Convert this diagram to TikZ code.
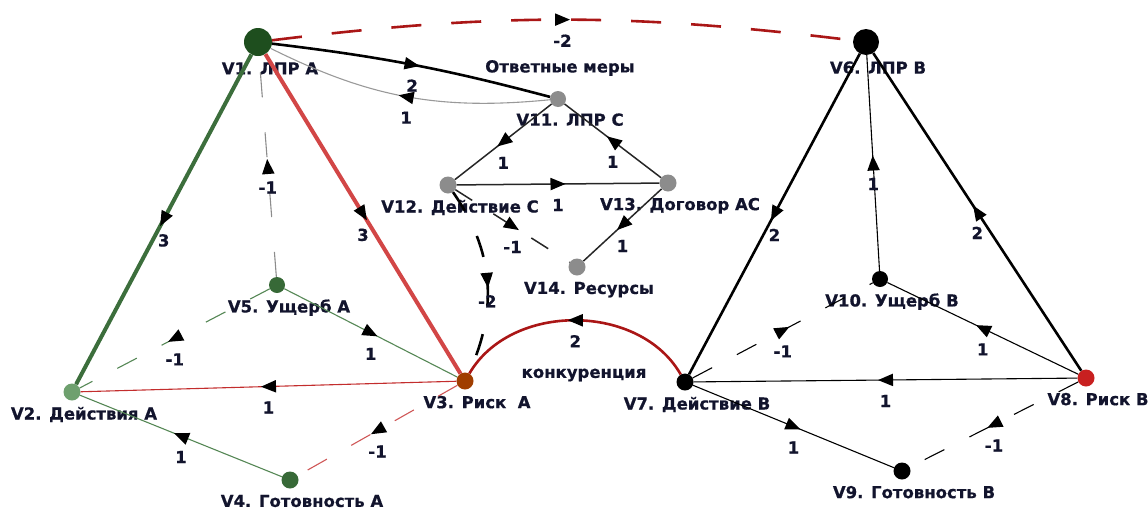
\documentclass[tikz,border=0pt]{standalone}
\usepackage{fontspec}
\setmainfont{DejaVu Sans}
\newfontfamily\lblfont{DejaVu Sans Bold}[FakeBold=0.6]
\usetikzlibrary{decorations.markings}

\definecolor{ink}{RGB}{18,20,45}
\definecolor{lprA}{RGB}{30,78,30}
\definecolor{grnA}{RGB}{55,105,55}
\definecolor{actA}{RGB}{110,160,110}
\definecolor{riskA}{RGB}{160,62,0}
\definecolor{riskB}{RGB}{200,32,32}
\definecolor{nodeC}{RGB}{140,140,140}
\definecolor{lineG}{RGB}{60,110,60}
\definecolor{lineR}{RGB}{210,70,70}
\definecolor{darkR}{RGB}{170,22,22}
\definecolor{thinG}{RGB}{85,135,85}
\definecolor{thinR}{RGB}{195,45,45}

\tikzset{
  vx/.style={circle, inner sep=0pt, minimum size=17pt, fill=#1},
  txt/.style={font=\lblfont\fontsize{16.5}{18}\selectfont, text=ink, inner sep=0pt},
  vlbl/.style={txt, xshift=12pt, label distance=6pt},
  wt/.style={txt, pos=.5, yshift=-21pt},
  midarr/.style={postaction={decorate}, decoration={markings,
      mark=at position #1 with {\fill[black] (7.5pt,0) -- (-7.5pt,6.3pt) -- (-7.5pt,-6.3pt) -- cycle;}}},
  midarr/.default=.5,
  thinline/.style={line width=1.1pt},
  cline/.style={line width=1.5pt, black!85},
  bold/.style={line width=2.6pt},
  heavy/.style={line width=4pt},
  longdash/.style={dash pattern=on 30pt off 30pt},
  shortdash/.style={dash pattern=on 22pt off 28pt}
}

\begin{document}
\begin{tikzpicture}[x=1pt,y=1pt]
\useasboundingbox (0,0) rectangle (1148,-509);

% side A
\node[vx=lprA, minimum size=28pt, label={[vlbl]below:V1. ЛПР А}] (v1) at (258,-42) {};
\node[vx=actA, label={[vlbl]below:V2. Действия А}] (v2) at (72,-392) {};
\node[vx=riskA, label={[vlbl]below:V3. Риск~~А}] (v3) at (465,-381) {};
\node[vx=grnA, label={[vlbl]below:V4. Готовность А}] (v4) at (290,-480) {};
\node[vx=grnA, minimum size=16pt, label={[vlbl]below:V5. Ущерб А}] (v5) at (277,-285) {};

% side B
\node[vx=black, minimum size=26pt, label={[vlbl]below:V6. ЛПР В}] (v6) at (866,-42) {};
\node[vx=black, label={[vlbl]below:V7. Действие В}] (v7) at (685,-382) {};
\node[vx=riskB, label={[vlbl]below:V8. Риск В}] (v8) at (1086,-378) {};
\node[vx=black, label={[vlbl]below:V9. Готовность В}] (v9) at (902,-471) {};
\node[vx=black, minimum size=16pt, label={[vlbl]below:V10. Ущерб В}] (v10) at (880,-279) {};

% side C
\node[vx=nodeC, minimum size=16pt, label={[vlbl]below:V11. ЛПР С}] (v11) at (558,-99) {};
\node[vx=nodeC, label={[vlbl]below:V12. Действие С}] (v12) at (448,-185) {};
\node[vx=nodeC, label={[vlbl]below:V13. Договор АС}] (v13) at (668,-183) {};
\node[vx=nodeC, label={[vlbl]below:V14. Ресурсы}] (v14) at (577,-267) {};

\node[txt] (otv) at (560,-68) {Ответные меры};
\node[txt] (konk) at (584,-375) {конкуренция};

% A
\draw[heavy, lineG, midarr] (v1) -- node[wt]{3} (v2);
\draw[heavy, lineR, midarr] (v1) -- node[wt]{3} (v3);
\draw[thinline, black!45, dash pattern=on 25pt off 35pt, midarr] (v5) -- node[wt]{-1} (v1);
\draw[thinline, thinG, midarr] (v5) -- node[wt]{1} (v3);
\draw[thinline, thinG, shortdash, midarr] (v5) -- node[wt]{-1} (v2);
\draw[thinline, thinR, midarr] (v3) -- node[wt]{1} (v2);
\draw[thinline, thinG, midarr] (v4) -- node[wt]{1} (v2);
\draw[thinline, thinR!80, shortdash, midarr] (v3) -- node[wt]{-1} (v4);

% links between sides
\draw[bold, darkR, longdash, midarr] (v1) to[bend left=7] node[wt]{-2} (v6);
\draw[bold, black, midarr] (v1) to[bend left=4] node[wt]{2} (v11);
\draw[thinline, black!40, midarr] (v11) to[bend left=16] node[wt]{1} (v1);
\draw[bold, black, shortdash, midarr] (v12) to[bend left=30] node[wt]{-2} (v3);
\draw[bold, darkR, midarr] (v7) to[bend right=60] node[wt]{2} (v3);

% C
\draw[cline, midarr] (v11) -- node[wt]{1} (v12);
\draw[cline, midarr] (v13) -- node[wt]{1} (v11);
\draw[cline, midarr] (v12) -- node[wt]{1} (v13);
\draw[cline, midarr] (v13) -- node[wt]{1} (v14);
\draw[cline, dash pattern=on 20pt off 25pt, midarr] (v12) -- node[wt]{-1} (v14);

% B
\draw[bold, black, midarr] (v6) -- node[wt]{2} (v7);
\draw[thinline, black, midarr] (v10) -- node[wt]{1} (v6);
\draw[bold, black, midarr] (v8) -- node[wt]{2} (v6);
\draw[thinline, black, midarr] (v8) -- node[wt]{1} (v10);
\draw[thinline, black, shortdash, midarr] (v7) -- node[wt]{-1} (v10);
\draw[thinline, black, midarr] (v8) -- node[wt]{1} (v7);
\draw[thinline, black, midarr] (v7) -- node[wt]{1} (v9);
\draw[thinline, black, shortdash, midarr] (v8) -- node[wt]{-1} (v9);
\end{tikzpicture}
\end{document}
